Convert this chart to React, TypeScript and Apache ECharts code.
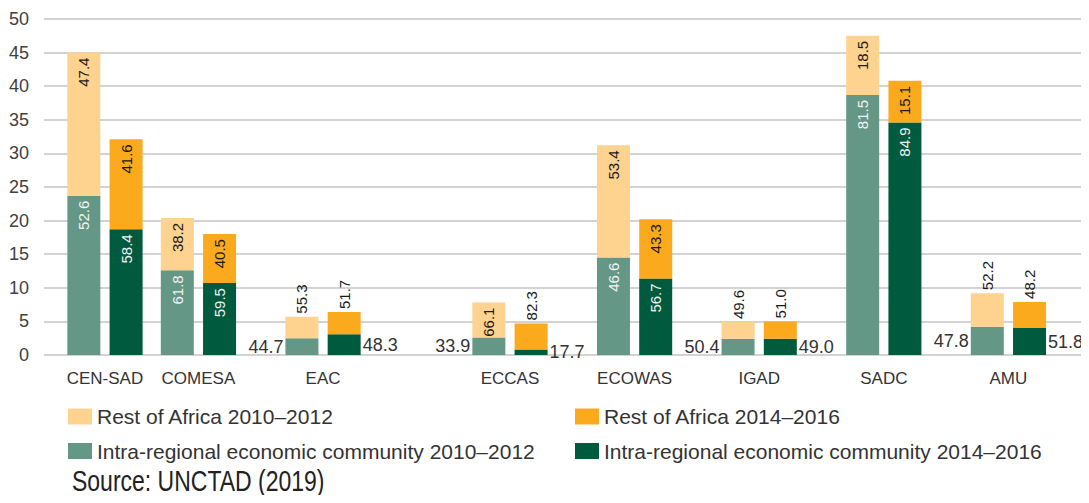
import React, { useEffect, useRef } from "react";
import * as echarts from "echarts";

const categories = ["CEN-SAD", "COMESA", "EAC", "ECCAS", "ECOWAS", "IGAD", "SADC", "AMU"];
const intra1012 = [23.7, 12.6, 2.5, 2.6, 14.5, 2.4, 38.7, 4.2];
const rest1012 = [21.3, 7.8, 3.2, 5.2, 16.7, 2.5, 8.8, 5.0];
const intra1416 = [18.7, 10.7, 3.1, 0.8, 11.4, 2.4, 34.6, 4.0];
const rest1416 = [13.4, 7.3, 3.3, 3.9, 8.8, 2.6, 6.2, 3.9];
const intraPct1012 = ["52.6", "61.8", "44.7", "33.9", "46.6", "50.4", "81.5", "47.8"];
const restPct1012 = ["47.4", "38.2", "55.3", "66.1", "53.4", "49.6", "18.5", "52.2"];
const intraPct1416 = ["58.4", "59.5", "48.3", "17.7", "56.7", "49.0", "84.9", "51.8"];
const restPct1416 = ["41.6", "40.5", "51.7", "82.3", "43.3", "51.0", "15.1", "48.2"];
const yTicks = { min: 0, max: 50, interval: 5 };

// layout: slot of each category on a 30-slot band axis (blank slots are spacers)
const slotOf = [0, 3, 7, 13, 17, 21, 25, 29];
const slotCount = 30;

const SANS = "'Liberation Sans', Arial, sans-serif";

const C_REST1 = "#FED28F";
const C_REST2 = "#FBAA1E";
const C_INTRA1 = "#659787";
const C_INTRA2 = "#005A3D";

function spread<T>(vals: T[]): (T | string)[] {
  const out: (T | string)[] = new Array(slotCount).fill("-");
  vals.forEach((v, i) => (out[slotOf[i]] = v));
  return out;
}

const axisCategories = (() => {
  const out: string[] = new Array(slotCount).fill("");
  categories.forEach((c, i) => (out[slotOf[i]] = c));
  return out;
})();

function intraItems(vals: number[], pcts: string[], side: "left" | "right") {
  return vals.map((v, i) => ({
    value: v,
    label:
      v >= 8
        ? {
            show: true,
            formatter: pcts[i],
            position: "insideTop",
            distance: 5,
            rotate: 90,
            align: "right",
            verticalAlign: "middle",
            color: "#F2F2F2",
            fontFamily: SANS,
            fontSize: 15,
          }
        : {
            show: true,
            formatter: pcts[i],
            position: side,
            distance: 2,
            rotate: 0,
            color: "#333333",
            fontFamily: SANS,
            fontSize: 18,
          },
  }));
}

function restItems(vals: number[], pcts: string[]) {
  return vals.map((v, i) => ({
    value: v,
    label:
      v > 5.1
        ? {
            show: true,
            formatter: pcts[i],
            position: "insideTop",
            distance: 5,
            rotate: 90,
            align: "right",
            verticalAlign: "middle",
            color: "#1A1A1A",
            fontFamily: SANS,
            fontSize: 15,
          }
        : {
            show: true,
            formatter: pcts[i],
            position: "top",
            distance: 3,
            rotate: 90,
            align: "left",
            verticalAlign: "middle",
            color: "#1A1A1A",
            fontFamily: SANS,
            fontSize: 15,
          },
  }));
}

export default function App() {
  const ref = useRef<HTMLDivElement>(null);
  useEffect(() => {
    if (!ref.current) return;
    const chart = echarts.init(ref.current, null, { renderer: "svg" });
    const barBase = {
      type: "bar",
      xAxisIndex: 1,
      yAxisIndex: 1,
      barWidth: 33,
      barGap: "28%",
      clip: false,
    };
    const legendBase = {
      orient: "vertical",
      top: 401,
      itemWidth: 24,
      itemHeight: 16,
      itemGap: 13.5,
      icon: "rect",
      textStyle: { fontSize: 21, lineHeight: 20, color: "#333333", fontFamily: SANS },
    };
    chart.setOption({
      animation: false,
      backgroundColor: "#ffffff",
      grid: [
        { left: 44, right: 4, top: 19, bottom: 148 },
        { left: 89.4, right: 65, top: 19, bottom: 148 },
      ],
      xAxis: [
        { type: "value", gridIndex: 0, show: false, min: 0, max: 1 },
        {
          type: "category",
          gridIndex: 1,
          data: axisCategories,
          axisLine: { show: false },
          axisTick: { show: false },
          axisLabel: { interval: 0, fontSize: 17, color: "#333333", fontFamily: SANS, margin: 15 },
        },
      ],
      yAxis: [
        {
          type: "value",
          gridIndex: 0,
          ...yTicks,
          axisLine: { show: false },
          axisTick: { show: false },
          axisLabel: { fontSize: 18, color: "#404040", fontFamily: SANS, margin: 15 },
          splitLine: { show: true, lineStyle: { color: "#C4C4C4", width: 1.5 } },
        },
        { type: "value", gridIndex: 1, ...yTicks, show: false, splitLine: { show: false } },
      ],
      legend: [
        {
          ...legendBase,
          left: 63,
          data: ["Rest of Africa 2010–2012", "Intra-regional economic community 2010–2012"],
        },
        {
          ...legendBase,
          left: 570,
          data: ["Rest of Africa 2014–2016", "Intra-regional economic community 2014–2016"],
        },
      ],
      graphic: [
        {
          type: "text",
          left: 72,
          top: 467,
          scaleY: 1.25,
          style: { text: "Source: UNCTAD (2019)", fontSize: 23, fontFamily: SANS, fill: "#222222" },
        },
      ],
      series: [
        {
          ...barBase,
          name: "Intra-regional economic community 2010–2012",
          stack: "p1",
          itemStyle: { color: C_INTRA1 },
          data: spread(intraItems(intra1012, intraPct1012, "left")),
        },
        {
          ...barBase,
          name: "Rest of Africa 2010–2012",
          stack: "p1",
          itemStyle: { color: C_REST1 },
          data: spread(restItems(rest1012, restPct1012)),
        },
        {
          ...barBase,
          name: "Intra-regional economic community 2014–2016",
          stack: "p2",
          itemStyle: { color: C_INTRA2 },
          data: spread(intraItems(intra1416, intraPct1416, "right")),
        },
        {
          ...barBase,
          name: "Rest of Africa 2014–2016",
          stack: "p2",
          itemStyle: { color: C_REST2 },
          data: spread(restItems(rest1416, restPct1416)),
        },
      ],
    });
    return () => chart.dispose();
  }, []);
  return <div ref={ref} style={{ width: 1089, height: 503, margin: -8 }} />;
}
